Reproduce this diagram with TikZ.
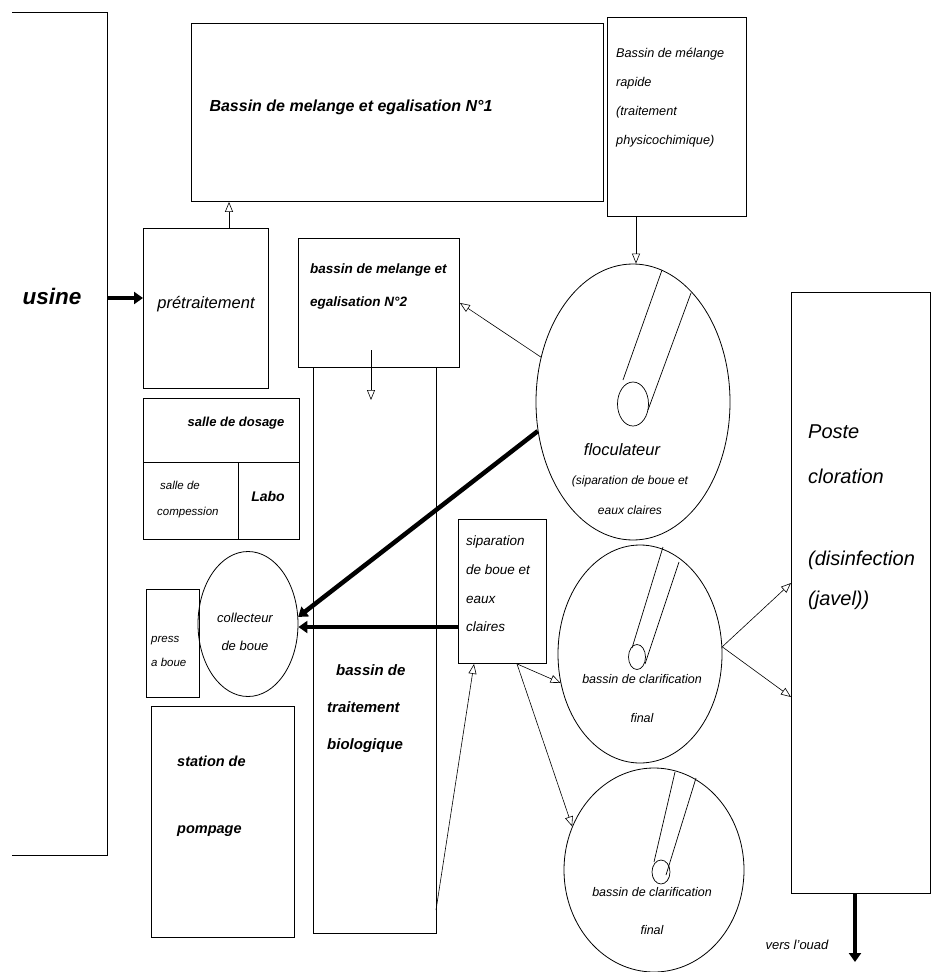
\documentclass[tikz,border=0pt]{standalone}
\usepackage{fontspec}
\setmainfont{Liberation Sans}
\usetikzlibrary{arrows.meta,shapes.geometric}
\begin{document}
\begin{tikzpicture}[x=1pt,y=-1pt,
  box/.style={draw, line width=0.9pt, inner sep=0pt, anchor=north west},
  circ/.style={draw, ellipse, line width=0.8pt, inner sep=0pt},
  oarr/.style={-{Triangle[open,length=10pt,width=8pt]}, line width=0.6pt},
  tarr/.style={-{Triangle[length=9pt,width=12pt]}, line width=4.5pt},
  lab/.style={align=left, inner sep=0pt},
  fs/.style args={#1/#2}{font=\fontsize{#1}{#2}\selectfont\itshape},
  fsb/.style args={#1/#2}{font=\fontsize{#1}{#2}\selectfont\bfseries\itshape}]
\useasboundingbox (0,0) rectangle (931,972);
% usine bracket
\coordinate (ua) at (12,12);
\coordinate (ub) at (107,12);
\coordinate (uc) at (107,855);
\coordinate (ud) at (12,855);
\draw[line width=0.9pt] (ua) -- (ub) -- (uc) -- (ud);
\node[lab, fsb=22.5/26] (usine) at (52,296) {usine};
% boxes
\node[box, minimum width=412pt, minimum height=178pt] (b1) at (191,23) {};
\node[box, minimum width=139pt, minimum height=199pt] (rapid) at (607,17) {};
\node[box, minimum width=125pt, minimum height=160pt] (pre) at (143,228) {};
\node[box, minimum width=161pt, minimum height=129pt] (n2) at (298,238) {};
\node[box, minimum width=123pt, minimum height=566pt] (bio) at (313,367) {};
\node[box, minimum width=156pt, minimum height=141pt] (dos) at (143,398) {};
\coordinate (d1) at (143,462);
\coordinate (d2) at (299,462);
\coordinate (d3) at (238,462);
\coordinate (d4) at (238,539);
\draw[line width=0.9pt] (d1) -- (d2) (d3) -- (d4);
\node[box, minimum width=53pt, minimum height=108pt] (press) at (146,589) {};
\node[box, minimum width=143pt, minimum height=231pt] (pomp) at (151,706) {};
\node[box, minimum width=88pt, minimum height=144pt] (sep) at (458,519) {};
\node[box, minimum width=139pt, minimum height=601pt] (poste) at (791,292) {};
% circles
\node[circ, minimum width=100pt, minimum height=145pt] (coll) at (248,624) {};
\node[circ, minimum width=194pt, minimum height=276pt] (floc) at (633,402) {};
\node[circ, minimum width=164pt, minimum height=218pt] (c1) at (640,654) {};
\node[circ, minimum width=180pt, minimum height=204pt] (c2) at (654,870) {};
% inner tubes
\draw[line width=0.7pt] (633,404) ellipse [x radius=15.5, y radius=22];
\draw[line width=0.7pt] (623,380) -- (662,270) (648,410) -- (691,293);
\draw[line width=0.7pt] (637,657) ellipse [x radius=8.5, y radius=12.5];
\draw[line width=0.7pt] (632,648) -- (663,547) (645,664) -- (679,562);
\draw[line width=0.7pt] (661,872) ellipse [x radius=9, y radius=12];
\draw[line width=0.7pt] (654,862) -- (675,772) (666,875) -- (696,778);
% texts
\node[lab, fsb=16/18] (t1) at (351,107) {Bassin de melange et egalisation N°1};
\node[lab, fs=12.7/29, anchor=west] (t2) at (616,97.5) {Bassin de mélange\\rapide\\(traitement\\physicochimique)};
\node[lab, fs=16.5/18] (t3) at (206,304) {prétraitement};
\node[lab, fsb=13.5/33, anchor=west] (t4) at (310,286.5) {bassin de melange et\\egalisation N°2};
\node[lab, fsb=13/15] (t5) at (236,423) {salle de dosage};
\node[lab, fs=11.5/26, anchor=west] (t6) at (157,500) {\hspace*{3pt}salle de\\compession};
\node[lab, fsb=14/16] (t7) at (268,496) {Labo};
\node[lab, fs=13/28, align=center] (t8) at (245,632) {collecteur\\de boue};
\node[lab, fs=11.5/24, anchor=west] (t9) at (151,651) {press\\a boue};
\node[lab, fsb=14.5/67, anchor=west] (t10) at (177,796.5) {station de\\pompage};
\node[lab, fsb=15/37, anchor=west] (t11) at (327,709) {\hspace*{9pt}bassin de\\traitement\\biologique};
\node[lab, fs=16.5/18] (t12) at (622,450) {floculateur};
\node[lab, fs=12/30, align=center] (t13) at (630,495) {(siparation de boue et\\eaux claires};
\node[lab, fs=13.5/28.7, anchor=west] (t14) at (466,584) {siparation\\de boue et\\eaux\\claires};
\node[lab, fs=12.5/39, align=center] (t15) at (642,698.5) {bassin de clarification\\final};
\node[lab, fs=12.5/38, align=center] (t16) at (652,911) {bassin de clarification\\final};
\node[lab, fs=20/45, anchor=west] (t17) at (808,454.5) {Poste\\cloration};
\node[lab, fs=20/40, anchor=west] (t18) at (808,580) {(disinfection\\(javel))};
\node[lab, fs=13/14] (t19) at (797,945) {vers l'ouad};
% connectors
\coordinate (u) at (107,298);
\draw[tarr] (u) -- (u -| pre.west);
\coordinate (p1) at (229,0);
\draw[oarr] (p1 |- pre.north) -- (p1 |- b1.south);
\coordinate (p2) at (636,0);
\draw[oarr] (p2 |- rapid.south) -- (p2 |- floc.north);
\draw[oarr] (floc.154) -- (n2.east);
\coordinate (p3a) at (371,350);
\coordinate (p3b) at (371,400);
\draw[oarr] (p3a) -- (p3b);
\draw[tarr] (floc.197) -- (coll.8);
\coordinate (p4) at (458,627);
\draw[tarr] (p4) -- (p4 -| coll.east);
\coordinate (p5) at (436,910);
\draw[oarr] (p5) -- ([xshift=16pt]sep.south west);
\draw[oarr] ([xshift=59pt]sep.south west) -- (c1.200);
\draw[oarr] ([xshift=59pt]sep.south west) -- (c2.152);
\coordinate (p7) at (0,583);
\coordinate (p8) at (0,697);
\draw[oarr] (c1.5) -- (poste.west |- p7);
\draw[oarr] (c1.5) -- (poste.west |- p8);
\coordinate (p9) at (855,0);
\coordinate (p10) at (855,962);
\draw[tarr] (p9 |- poste.south) -- (p10);
\end{tikzpicture}
\end{document}
